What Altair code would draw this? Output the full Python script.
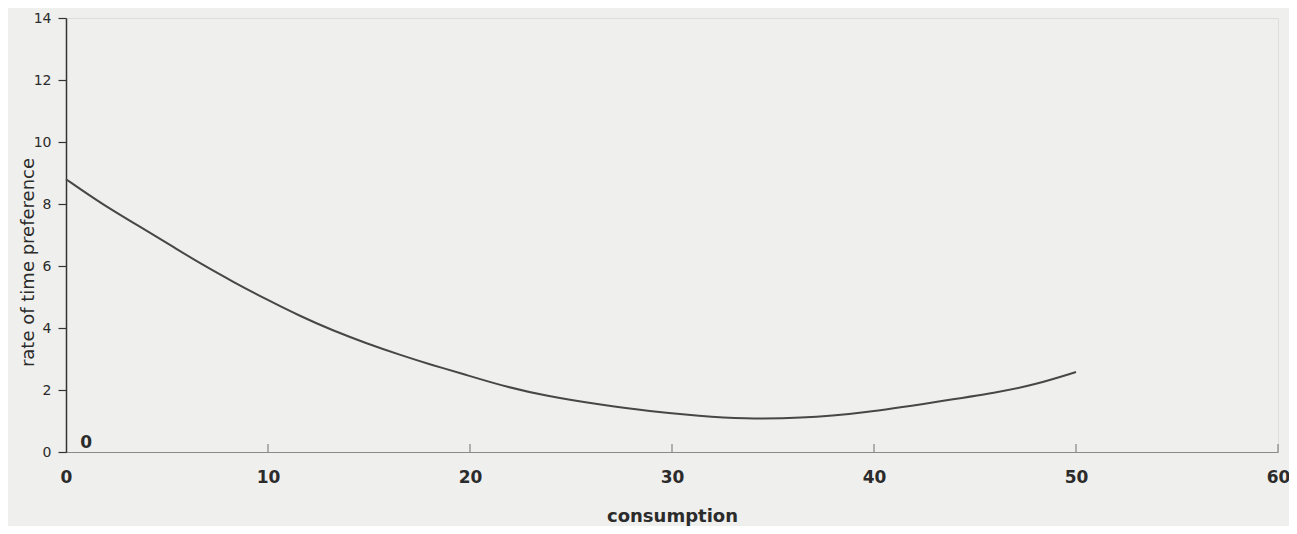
import altair as alt
import pandas as pd

# Curve
consumption = [0, 1.7, 3.7, 5.3, 6.6, 8.3, 9.9, 11.6, 13.2, 14.9, 16.5, 18.2, 19.5,
               21.5, 23.8, 26.4, 28.9, 31.4, 33.5, 36.3, 39.6, 42.9, 46.2, 47.9, 50.0]
rate = [8.8, 8.03, 7.25, 6.62, 6.1, 5.48, 4.93, 4.38, 3.92, 3.50, 3.14, 2.79, 2.55,
        2.15, 1.80, 1.53, 1.31, 1.16, 1.07, 1.08, 1.27, 1.60, 1.93, 2.16, 2.58]

x_ticks = [0, 10, 20, 30, 40, 50, 60]
y_ticks = [0, 2, 4, 6, 8, 10, 12, 14]
inner_ticks = [10, 20, 30, 40, 50, 60]

# stray "0" label inside the plot near the origin
note_x = [1.0]
note_y = [0.3]
note_text = ["0"]

FONT = "DejaVu Sans"
TXT = "#2b2b2b"

curve = pd.DataFrame({"consumption": consumption, "rate": rate})
ticks_df = pd.DataFrame({"t": inner_ticks, "zero": [0] * len(inner_ticks)})
note_df = pd.DataFrame({"x": note_x, "y": note_y, "label": note_text})

x_scale = alt.Scale(domain=[0, 60], nice=False, zero=True)
y_scale = alt.Scale(domain=[0, 14], nice=False)

line = alt.Chart(curve).mark_line(
    color="#474747", strokeWidth=2, interpolate="basis"
).encode(
    x=alt.X(
        "consumption:Q",
        scale=x_scale,
        axis=alt.Axis(
            values=x_ticks, title="consumption", grid=False, ticks=False,
            tickSize=0, labelPadding=17, labelFontSize=17, labelFont=FONT,
            labelFontWeight="bold", labelColor=TXT, titleFont=FONT,
            titleFontSize=18, titleFontWeight="bold",
            titleColor=TXT, titlePadding=22, domainColor="#8a8a8a", domainWidth=1.2,
            labelFlush=False,
        ),
    ),
    y=alt.Y(
        "rate:Q",
        scale=y_scale,
        axis=alt.Axis(
            values=y_ticks, title="rate of time preference", grid=False,
            tickSize=8, tickColor="#333333", tickWidth=1.2, labelPadding=7,
            labelFontSize=14, labelFont=FONT, labelColor=TXT, domainColor="#333333",
            domainWidth=1.5, titleFont=FONT, titleFontSize=18, titleFontWeight="normal",
            titleColor=TXT, titleX=-38, titleY=244, titleBaseline="middle",
            titleAngle=270, labelFlush=False,
        ),
    ),
)

inner = alt.Chart(ticks_df).mark_tick(
    orient="vertical", size=8, thickness=1.2, color="#555555", yOffset=-4
).encode(
    x=alt.X("t:Q", scale=x_scale),
    y=alt.Y("zero:Q", scale=y_scale),
)

note = alt.Chart(note_df).mark_text(
    font=FONT, fontSize=17, fontWeight="bold", color=TXT, align="center",
    baseline="middle"
).encode(
    x=alt.X("x:Q", scale=x_scale),
    y=alt.Y("y:Q", scale=y_scale),
    text="label:N",
)

chart = alt.layer(line, inner, note).properties(
    width=1212,
    height=434,
    autosize=alt.AutoSizeParams(type="none"),
    padding={"left": 58, "top": 10, "right": 11, "bottom": 74},
).configure_view(stroke=None).configure(background="#efefed")

chart.save("out.html", embed_options={"renderer": "svg", "actions": False})
